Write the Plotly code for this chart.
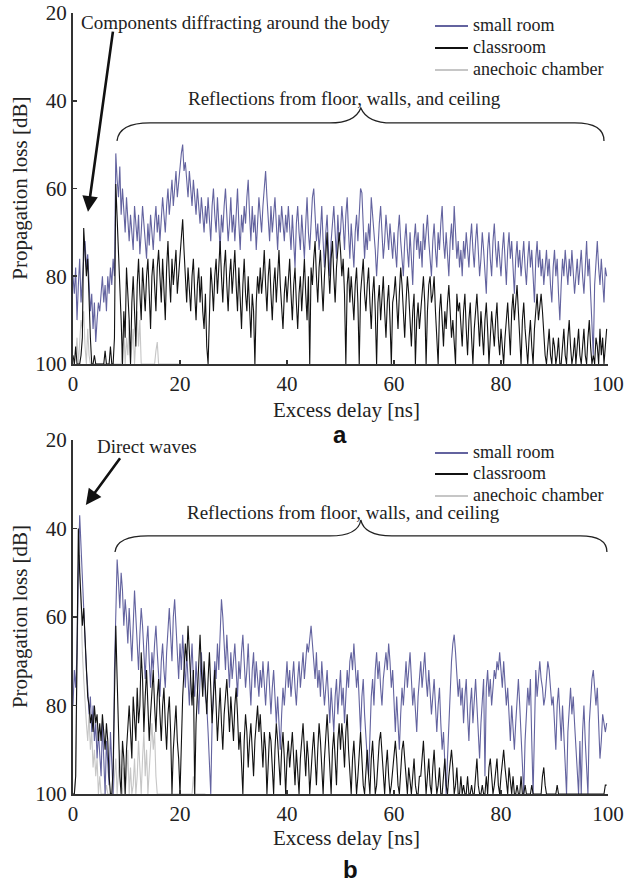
import plotly.graph_objects as go

# ---------------- data (dB) ----------------
DELAY_STEP_NS = 0.25  # sampling step of the delay profiles

# (a) top panel
A_SMALL_ROOM = [
    80, 84, 78, 90, 82, 76, 86, 80, 76, 72, 78, 75, 82, 88, 84, 92, 86, 95, 90, 86,
    88, 84, 80, 86, 82, 88, 80, 84, 78, 82, 76, 80, 52, 58, 62, 55, 66, 60, 64, 70,
    62, 68, 72, 66, 70, 74, 64, 68, 72, 66, 75, 70, 64, 68, 72, 76, 68, 73, 66, 70,
    74, 68, 64, 70, 66, 72, 68, 62, 66, 70, 64, 60, 66, 62, 58, 64, 60, 56, 62, 58,
    54, 52, 50, 56, 54, 58, 62, 56, 60, 64, 58, 62, 66, 60, 64, 68, 62, 66, 70, 64,
    68, 62, 66, 72, 64, 60, 66, 70, 62, 68, 74, 66, 70, 64, 60, 66, 72, 68, 62, 70,
    66, 72, 64, 60, 68, 74, 66, 70, 64, 68, 62, 58, 66, 72, 64, 70, 66, 74, 68, 62,
    66, 70, 64, 60, 56, 62, 68, 72, 64, 70, 66, 62, 68, 74, 66, 70, 64, 68, 72, 66,
    70, 64, 68, 74, 66, 72, 78, 68, 64, 70, 74, 66, 70, 76, 68, 62, 70, 74, 68, 62,
    60, 66, 72, 68, 74, 70, 64, 72, 78, 70, 66, 74, 80, 72, 68, 64, 70, 76, 66, 72,
    70, 64, 68, 74, 66, 62, 70, 76, 68, 72, 78, 70, 66, 72, 64, 60, 61, 68, 76, 70,
    74, 68, 72, 62, 66, 68, 74, 80, 72, 68, 64, 70, 76, 72, 66, 70, 74, 68, 72, 76,
    70, 74, 78, 70, 66, 72, 76, 80, 72, 68, 74, 78, 70, 76, 82, 72, 68, 74, 70, 76,
    72, 78, 68, 74, 70, 66, 72, 76, 80, 72, 68, 74, 78, 70, 74, 68, 64, 72, 76, 70,
    74, 80, 72, 68, 74, 64, 70, 76, 72, 78, 74, 80, 72, 76, 70, 74, 78, 72, 68, 74,
    78, 72, 68, 74, 80, 76, 70, 74, 78, 84, 74, 70, 76, 80, 72, 68, 74, 78, 72, 76,
    80, 74, 70, 76, 82, 74, 70, 76, 72, 78, 84, 76, 72, 78, 74, 80, 76, 72, 78, 82,
    76, 72, 78, 74, 80, 86, 76, 72, 78, 74, 80, 76, 82, 78, 74, 80, 76, 82, 86, 78,
    74, 80, 76, 84, 90, 82, 76, 80, 74, 78, 82, 76, 80, 74, 78, 84, 80, 76, 82, 78,
    74, 80, 84, 78, 72, 80, 76, 84, 92, 98, 82, 76, 72, 78, 82, 76, 80, 86, 78, 80,
]
A_CLASSROOM = [
    98, 100, 96, 100, 100, 100, 98, 94, 69, 74, 80, 76, 86, 94, 100, 100, 98, 100, 100, 100,
    100, 100, 100, 100, 97, 100, 100, 100, 96, 100, 100, 94, 59, 66, 74, 82, 90, 100, 88, 94,
    78, 84, 90, 100, 86, 80, 88, 96, 82, 76, 84, 90, 78, 82, 88, 80, 76, 84, 92, 80,
    76, 82, 88, 78, 74, 80, 86, 76, 82, 90, 78, 72, 80, 86, 76, 82, 78, 74, 84, 80,
    76, 70, 67, 74, 80, 86, 78, 82, 88, 80, 76, 84, 90, 82, 78, 86, 80, 88, 92, 84,
    96, 100, 86, 78, 82, 88, 80, 76, 84, 78, 72, 80, 86, 78, 74, 82, 88, 80, 76, 84,
    80, 74, 82, 88, 78, 84, 92, 82, 76, 84, 88, 80, 86, 94, 84, 88, 100, 86, 80, 84,
    78, 84, 80, 74, 82, 88, 80, 76, 84, 90, 82, 78, 86, 80, 74, 82, 88, 92, 84, 80,
    86, 80, 76, 84, 90, 82, 78, 86, 92, 84, 80, 88, 82, 76, 84, 90, 80, 100, 78, 82,
    76, 72, 80, 86, 78, 74, 82, 88, 80, 76, 70, 78, 84, 76, 72, 80, 86, 78, 74, 70,
    74, 80, 76, 84, 100, 82, 78, 86, 80, 84, 90, 82, 78, 86, 100, 84, 80, 76, 84, 88,
    82, 78, 86, 92, 84, 80, 88, 100, 86, 82, 90, 84, 80, 88, 94, 86, 82, 90, 100, 86,
    84, 80, 86, 92, 84, 78, 82, 88, 94, 86, 80, 84, 90, 96, 88, 84, 100, 90, 86, 92,
    88, 84, 80, 86, 100, 88, 82, 80, 86, 84, 80, 88, 94, 100, 88, 84, 90, 96, 88, 92,
    86, 82, 88, 94, 90, 96, 100, 84, 88, 86, 90, 96, 88, 84, 92, 98, 90, 86, 94, 100,
    92, 88, 84, 90, 96, 88, 92, 98, 90, 86, 92, 100, 94, 88, 92, 96, 90, 86, 94, 98,
    92, 96, 100, 94, 90, 86, 92, 98, 88, 84, 90, 86, 82, 88, 94, 100, 90, 86, 92, 96,
    100, 94, 90, 96, 100, 92, 88, 84, 90, 86, 84, 88, 94, 98, 100, 96, 92, 98, 100, 94,
    96, 100, 98, 94, 100, 100, 96, 92, 98, 100, 94, 90, 96, 100, 98, 94, 100, 96, 92, 98,
    100, 96, 92, 98, 100, 94, 90, 96, 100, 98, 100, 94, 96, 100, 92, 98, 94, 100, 96, 92,
]
A_ANECHOIC = [
    100, 100, 98, 94, 100, 96, 90, 92, 88, 96, 100, 92, 98, 100, 100, 100, 100, 100, 100, 100,
    100, 100, 100, 100, 100, 100, 100, 100, 100, 100, 100, 100, 100, 100, 100, 100, 100, 96, 92, 100,
    94, 98, 90, 100, 96, 92, 100, 94, 88, 96, 90, 100, 100, 100, 100, 100, 100, 100, 100, 100,
    100, 100, 97, 95, 100, 100, 100, 100, 100, 100, 100, 100, 100, 100, 100, 100, 100, 100, 100, 100,
]

# (b) bottom panel
B_SMALL_ROOM = [
    80, 72, 76, 68, 50, 37, 44, 52, 60, 66, 72, 76, 82, 78, 86, 80, 88, 84, 92, 86,
    90, 96, 84, 92, 100, 88, 94, 98, 86, 92, 100, 72, 56, 47, 52, 58, 50, 54, 62, 56,
    60, 66, 58, 64, 70, 62, 54, 60, 66, 72, 64, 58, 62, 68, 74, 66, 62, 70, 76, 68,
    72, 66, 62, 68, 74, 78, 70, 66, 72, 76, 68, 62, 58, 64, 70, 60, 56, 62, 68, 74,
    66, 72, 64, 70, 76, 68, 74, 80, 72, 66, 74, 78, 70, 76, 82, 74, 68, 76, 72, 78,
    80, 86, 92, 100, 84, 76, 70, 74, 66, 72, 62, 56, 60, 66, 72, 64, 70, 76, 68, 74,
    70, 66, 72, 78, 70, 74, 68, 64, 70, 76, 72, 66, 74, 80, 72, 68, 76, 70, 74, 78,
    72, 76, 70, 74, 80, 74, 70, 76, 82, 76, 72, 78, 84, 78, 86, 90, 82, 76, 80, 74,
    70, 76, 72, 78, 74, 70, 76, 80, 74, 70, 76, 72, 68, 74, 70, 66, 68, 64, 62, 66,
    70, 74, 68, 76, 72, 78, 70, 74, 80, 76, 72, 78, 84, 76, 80, 86, 78, 74, 82, 76,
    72, 80, 76, 84, 78, 72, 76, 70, 68, 72, 66, 70, 76, 72, 80, 86, 78, 74, 82, 88,
    92, 96, 84, 78, 74, 80, 72, 68, 74, 70, 76, 80, 74, 70, 68, 72, 66, 70, 76, 72,
    80, 86, 78, 84, 90, 82, 76, 80, 74, 70, 76, 72, 68, 74, 80, 76, 82, 86, 78, 74,
    70, 76, 72, 68, 74, 78, 72, 76, 82, 78, 74, 80, 86, 80, 76, 84, 90, 86, 94, 100,
    92, 84, 76, 70, 66, 64, 68, 72, 78, 74, 80, 76, 84, 78, 74, 82, 88, 80, 76, 84,
    78, 74, 80, 86, 92, 84, 78, 74, 96, 76, 72, 78, 74, 80, 76, 72, 74, 70, 72, 68,
    72, 76, 70, 74, 80, 76, 82, 88, 80, 84, 90, 84, 78, 74, 80, 86, 92, 100, 88, 82,
    76, 80, 74, 88, 100, 86, 72, 78, 74, 70, 74, 76, 80, 78, 74, 70, 72, 76, 80, 78,
    84, 90, 80, 76, 82, 88, 80, 86, 94, 100, 86, 80, 76, 82, 78, 84, 90, 96, 100, 88,
    100, 86, 80, 88, 94, 100, 84, 78, 74, 72, 76, 80, 76, 84, 92, 88, 82, 84, 86, 84,
]
B_CLASSROOM = [
    100, 100, 96, 70, 40, 50, 56, 62, 58, 66, 72, 78, 80, 84, 82, 86, 80, 84, 82, 88,
    84, 88, 82, 86, 90, 84, 88, 96, 100, 100, 94, 78, 62, 74, 86, 96, 100, 88, 92, 100,
    90, 84, 80, 86, 92, 78, 82, 88, 76, 84, 80, 68, 74, 86, 78, 72, 80, 88, 82, 76,
    72, 80, 86, 78, 74, 82, 88, 80, 76, 84, 90, 82, 78, 86, 100, 90, 84, 80, 88, 92,
    100, 86, 78, 72, 66, 70, 62, 68, 74, 80, 72, 100, 84, 76, 70, 64, 72, 78, 70, 76,
    82, 74, 68, 76, 84, 78, 72, 80, 88, 82, 76, 84, 90, 82, 78, 74, 80, 86, 78, 84,
    88, 80, 76, 82, 90, 86, 92, 100, 88, 82, 86, 94, 88, 84, 90, 96, 88, 84, 80, 86,
    82, 88, 94, 86, 90, 100, 92, 86, 88, 94, 100, 90, 84, 88, 94, 98, 90, 86, 92, 100,
    92, 88, 94, 90, 86, 92, 98, 90, 94, 100, 92, 88, 84, 90, 96, 88, 92, 100, 94, 90,
    86, 92, 98, 90, 84, 88, 94, 100, 92, 86, 82, 88, 94, 100, 90, 86, 92, 98, 88, 84,
    90, 84, 88, 94, 86, 82, 90, 96, 100, 92, 88, 94, 100, 96, 90, 86, 92, 98, 100, 94,
    90, 96, 100, 92, 88, 94, 100, 98, 92, 88, 86, 90, 96, 100, 94, 90, 96, 100, 98, 94,
    90, 88, 92, 98, 100, 94, 90, 88, 92, 96, 100, 94, 98, 100, 96, 92, 98, 100, 100, 96,
    96, 92, 88, 94, 100, 96, 92, 98, 100, 94, 90, 96, 100, 98, 94, 100, 100, 96, 92, 98,
    100, 96, 92, 90, 94, 100, 98, 94, 100, 100, 96, 100, 98, 100, 100, 96, 100, 100, 98, 100,
    100, 96, 92, 98, 100, 100, 98, 100, 100, 96, 100, 94, 92, 96, 100, 98, 94, 92, 98, 100,
    96, 92, 90, 94, 98, 100, 94, 98, 100, 96, 100, 100, 98, 100, 100, 96, 100, 100, 98, 100,
    100, 100, 100, 98, 100, 100, 100, 100, 100, 100, 100, 96, 94, 98, 100, 100, 100, 100, 100, 100,
    100, 100, 98, 100, 100, 100, 100, 100, 100, 100, 100, 100, 100, 100, 100, 100, 100, 100, 100, 100,
    100, 100, 100, 100, 100, 100, 100, 100, 100, 100, 100, 100, 100, 100, 100, 100, 100, 100, 98, 98,
]
B_ANECHOIC = [
    100, 100, 96, 70, 50, 46, 58, 68, 74, 80, 84, 88, 82, 90, 86, 94, 90, 96, 92, 100,
    96, 100, 100, 100, 100, 98, 100, 100, 100, 100, 100, 96, 92, 100, 96, 90, 98, 100, 94, 100,
    96, 90, 100, 94, 100, 98, 92, 100, 96, 88, 94, 100, 92, 86, 96, 90, 100, 94, 88, 84,
    90, 86, 96, 100, 100, 100, 100, 100, 100, 100, 100, 100, 100, 100, 100, 100, 100, 100, 100, 100,
    100, 100, 100, 100, 100, 100, 100, 100, 100, 100, 96, 100, 100, 100, 100, 100, 100, 100, 100, 100,
]

SERIES_NAMES = ["small room", "classroom", "anechoic chamber"]
X_TICKS = [0, 20, 40, 60, 80, 100]
Y_TICKS = [20, 40, 60, 80, 100]

# ---------------- styling ----------------
COL_SMALL = "#63639f"
COL_CLASS = "#111111"
COL_ANE = "#c6c6c6"
SERIES_COLORS = [COL_SMALL, COL_CLASS, COL_ANE]
SERIF = "Liberation Serif, Times New Roman, serif"
AXIS_COL = "#333333"


def delays(values):
    return [i * DELAY_STEP_NS for i in range(len(values))]


fig = go.Figure()

panels = [
    ("x", "y", A_SMALL_ROOM, A_CLASSROOM, A_ANECHOIC),
    ("x2", "y2", B_SMALL_ROOM, B_CLASSROOM, B_ANECHOIC),
]
for xa, ya, small, cls, ane in panels:
    # drawing order: anechoic underneath, then small room, classroom on top
    for vals, idx in ((ane, 2), (small, 0), (cls, 1)):
        fig.add_trace(go.Scatter(x=delays(vals), y=vals, name=SERIES_NAMES[idx], mode="lines",
                                 line=dict(color=SERIES_COLORS[idx], width=1.1),
                                 xaxis=xa, yaxis=ya, showlegend=False, cliponaxis=True))

axis_common = dict(showgrid=False, zeroline=False, showline=True, linecolor=AXIS_COL,
                   linewidth=2, ticks="inside", ticklen=4, tickcolor=AXIS_COL, tickwidth=1.5,
                   automargin=False,
                   tickfont=dict(family=SERIF, size=21, color="#222222"))

fig.update_layout(
    width=631, height=886,
    paper_bgcolor="white", plot_bgcolor="white",
    margin=dict(l=73, r=23, t=13, b=92, autoexpand=False),
    xaxis=dict(domain=[0, 1], anchor="y", range=[0, 100], tickvals=X_TICKS,
               ticklabelstandoff=0, **axis_common),
    yaxis=dict(domain=[0.5506, 1.0], anchor="x", range=[100, 20], tickvals=Y_TICKS,
               ticklabelstandoff=0, **axis_common),
    xaxis2=dict(domain=[0, 1], anchor="y2", range=[0, 100], tickvals=X_TICKS,
                ticklabelstandoff=0, **axis_common),
    yaxis2=dict(domain=[0, 0.4533], anchor="x2", range=[100, 20], tickvals=Y_TICKS,
                ticklabelstandoff=0, **axis_common),
    showlegend=False,
    hovermode=False,
)

PAPER_W = 535.0   # plot width in px
PAPER_H = 781.0   # plot height in px
PAPER_L = 73.0
PAPER_B = 794.0


def px_to_paper(px, py):
    return (px - PAPER_L) / PAPER_W, (PAPER_B - py) / PAPER_H


ann_font = dict(family=SERIF, size=19, color="#222222")
title_font = dict(family=SERIF, size=21, color="#222222")
leg_font = dict(family=SERIF, size=18, color="#222222")
annotations = [
    # axis titles
    dict(text="Propagation loss [dB]", xref="paper", yref="paper", x=-0.099, y=0.775,
         textangle=-90, showarrow=False, font=title_font, xanchor="center", yanchor="middle"),
    dict(text="Propagation loss [dB]", xref="paper", yref="paper", x=-0.099, y=0.2266,
         textangle=-90, showarrow=False, font=title_font, xanchor="center", yanchor="middle"),
    dict(text="Excess delay [ns]", xref="paper", yref="paper", x=0.512, y=0.4917,
         showarrow=False, font=title_font, xanchor="center", yanchor="middle"),
    dict(text="Excess delay [ns]", xref="paper", yref="paper", x=0.512, y=-0.0563,
         showarrow=False, font=title_font, xanchor="center", yanchor="middle"),
    # panel labels
    dict(text="<b>a</b>", xref="paper", yref="paper", x=0.499, y=0.4597, showarrow=False,
         font=dict(family="Liberation Sans, Arial, sans-serif", size=24, color="#111111"),
         xanchor="center", yanchor="middle"),
    dict(text="<b>b</b>", xref="paper", yref="paper", x=0.518, y=-0.0973, showarrow=False,
         font=dict(family="Liberation Sans, Arial, sans-serif", size=24, color="#111111"),
         xanchor="center", yanchor="middle"),
    # text notes
    dict(text="Components diffracting around the body", xref="x", yref="y", x=1.2, y=22.1,
         showarrow=False, font=ann_font, xanchor="left", yanchor="middle"),
    dict(text="Reflections from floor, walls, and ceiling", xref="x", yref="y", x=21.2, y=39.4,
         showarrow=False, font=ann_font, xanchor="left", yanchor="middle"),
    dict(text="Direct waves", xref="x2", yref="y2", x=4.2, y=21.4,
         showarrow=False, font=ann_font, xanchor="left", yanchor="middle"),
    dict(text="Reflections from floor, walls, and ceiling", xref="x2", yref="y2", x=20.9, y=36.3,
         showarrow=False, font=ann_font, xanchor="left", yanchor="middle"),
    # arrows
    dict(text="", xref="x", yref="y", x=2.8, y=65.3, axref="x", ayref="y", ax=7.5, ay=23.9,
         showarrow=True, arrowhead=2, arrowsize=1.2, arrowwidth=2.6, arrowcolor="#111111",
         standoff=0, startstandoff=0),
    dict(text="", xref="x2", yref="y2", x=2.4, y=34.7, axref="x2", ayref="y2", ax=9.0, ay=23.8,
         showarrow=True, arrowhead=2, arrowsize=1.2, arrowwidth=2.6, arrowcolor="#111111",
         standoff=0, startstandoff=0),
]

# legends (one per panel): short line swatch + label
shapes = []
LEGEND_ROWS_PX = {"top": [26, 48, 70], "bottom": [453, 474, 496]}
for panel, rows in LEGEND_ROWS_PX.items():
    for idx, py in enumerate(rows):
        x0, yy = px_to_paper(435, py)
        x1, _ = px_to_paper(468, py)
        xt, _ = px_to_paper(472, py)
        shapes.append(dict(type="line", xref="paper", yref="paper", x0=x0, x1=x1, y0=yy, y1=yy,
                           line=dict(color=SERIES_COLORS[idx], width=2)))
        annotations.append(dict(text=SERIES_NAMES[idx], xref="paper", yref="paper", x=xt, y=yy,
                                xanchor="left", yanchor="middle", showarrow=False, font=leg_font,
                                borderpad=0, yshift=1))

# curly braces over the reflection parts
brace_top = ("M8.22,49.16 Q8.6,45.06 14.4,45.06 L48,45.06 Q52.7,45.06 53.8,41.64 "
             "Q55,45.06 59.6,45.06 L93.8,45.06 Q99.25,45.06 99.25,49.16")
brace_bot = ("M7.85,45.31 Q8.22,41.69 14.0,41.69 L48,41.69 Q53.3,41.69 53.8,38.08 "
             "Q54.4,41.69 59.6,41.69 L94.8,41.69 Q99.8,41.69 99.8,45.31")
shapes.append(dict(type="path", path=brace_top, xref="x", yref="y",
                   line=dict(color="#222222", width=1.3)))
shapes.append(dict(type="path", path=brace_bot, xref="x2", yref="y2",
                   line=dict(color="#222222", width=1.3)))

fig.update_layout(annotations=annotations, shapes=shapes)

# remove the browser's default page margin so the figure sits at the window's top-left
fig.write_html("out.html",
               config={"displayModeBar": False, "staticPlot": True},
               post_script="document.body.style.margin='0';document.body.style.overflow='hidden';")
